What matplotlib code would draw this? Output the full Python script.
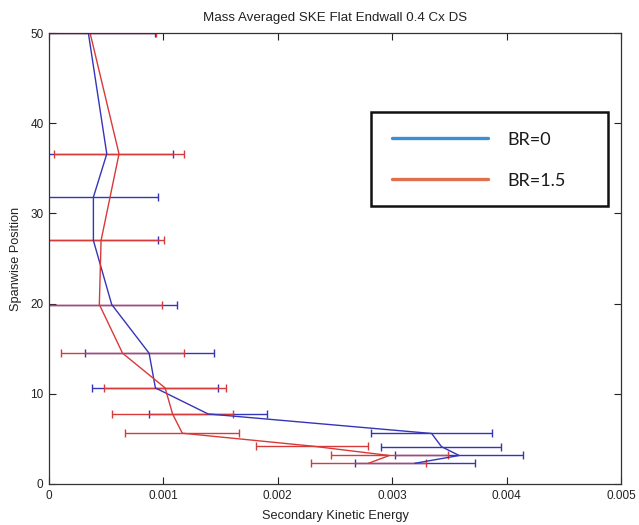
import matplotlib
matplotlib.use("Agg")
import matplotlib.pyplot as plt
from matplotlib.patches import Rectangle
from matplotlib.lines import Line2D

plt.rcParams['font.family'] = ['Liberation Sans', 'DejaVu Sans']

# BR = 0 (blowing ratio 0)
span_br0 = [50.0, 36.6, 31.8, 27.0, 19.9, 14.5, 10.65, 7.77, 5.6, 4.15, 3.16, 2.3]
ske_br0 = [0.000344, 0.000505, 0.000388, 0.000388, 0.000548, 0.000875, 0.00093,
           0.00139, 0.003345, 0.00343, 0.003585, 0.0032]
err_br0 = [0.000583, 0.000583, 0.000563, 0.000563, 0.000569, 0.000563, 0.00055,
           0.000515, 0.000528, 0.000525, 0.000557, 0.000522]

# BR = 1.5
span_br15 = [50.0, 36.6, 27.0, 19.9, 14.5, 10.65, 7.77, 5.63, 4.2, 3.16, 2.3]
ske_br15 = [0.000359, 0.000612, 0.000455, 0.00044, 0.000643, 0.001015, 0.00108,
            0.001165, 0.0023, 0.002975, 0.002793]
err_br15 = [0.00058, 0.000572, 0.000554, 0.000549, 0.000541, 0.000534, 0.000525,
            0.0005, 0.00049, 0.00051, 0.000503]

x_ticks = [0, 0.001, 0.002, 0.003, 0.004, 0.005]
x_tick_labels = ['0', '0.001', '0.002', '0.003', '0.004', '0.005']
y_ticks = [0, 10, 20, 30, 40, 50]
legend_labels = ['BR=0', 'BR=1.5']

c_br0 = '#3535b8'
c_br15 = '#d83a3a'
c_leg = ['#3a8fd6', '#e0704c']

fig = plt.figure(figsize=(6.39, 5.25), dpi=100)
ax = fig.add_axes([0.0767, 0.0781, 0.8951, 0.859])

ax.errorbar(ske_br0, span_br0, xerr=err_br0, color=c_br0, lw=1.0,
            elinewidth=1.0, capsize=2.8, capthick=1.0)
ax.errorbar(ske_br15, span_br15, xerr=err_br15, color=c_br15, lw=1.0,
            elinewidth=1.0, capsize=2.8, capthick=1.0)

ax.set_xlim(0, 0.005)
ax.set_ylim(0, 50)
ax.set_xticks(x_ticks)
ax.set_xticklabels(x_tick_labels)
ax.set_yticks(y_ticks)
ax.tick_params(direction='in', top=True, right=True, length=5, width=0.8,
               labelsize=8.5, colors='#222222', pad=4)
for s in ax.spines.values():
    s.set_color('#333333')
    s.set_linewidth(0.9)

fig.text(0.5243, 0.9657, 'Mass Averaged SKE Flat Endwall 0.4 Cx DS', fontsize=9.6,
         color='#222222', ha='center', va='center')
ax.set_xlabel('Secondary Kinetic Energy', fontsize=9.2, color='#222222', labelpad=6)
ax.set_ylabel('Spanwise Position', fontsize=9.2, color='#222222', labelpad=6)

# legend box drawn in axes coordinates
ax.add_patch(Rectangle((0.563, 0.6164), 0.4143, 0.2084, transform=ax.transAxes,
                       facecolor='white', edgecolor='#111111', lw=1.8, zorder=5))
leg_y_line = [0.7665, 0.6756]
leg_y_text = [0.7517, 0.6614]
for lbl, col, yl, yt in zip(legend_labels, c_leg, leg_y_line, leg_y_text):
    ax.add_line(Line2D([0.5997, 0.7675], [yl, yl], transform=ax.transAxes,
                       color=col, lw=2.4, solid_capstyle='round', zorder=6))
    ax.text(0.8007, yt, lbl, transform=ax.transAxes, fontsize=13,
            family=['Lato', 'DejaVu Sans'], color='#1a1a1a', va='baseline',
            ha='left', zorder=6)

fig.savefig('out.png', dpi=100)
